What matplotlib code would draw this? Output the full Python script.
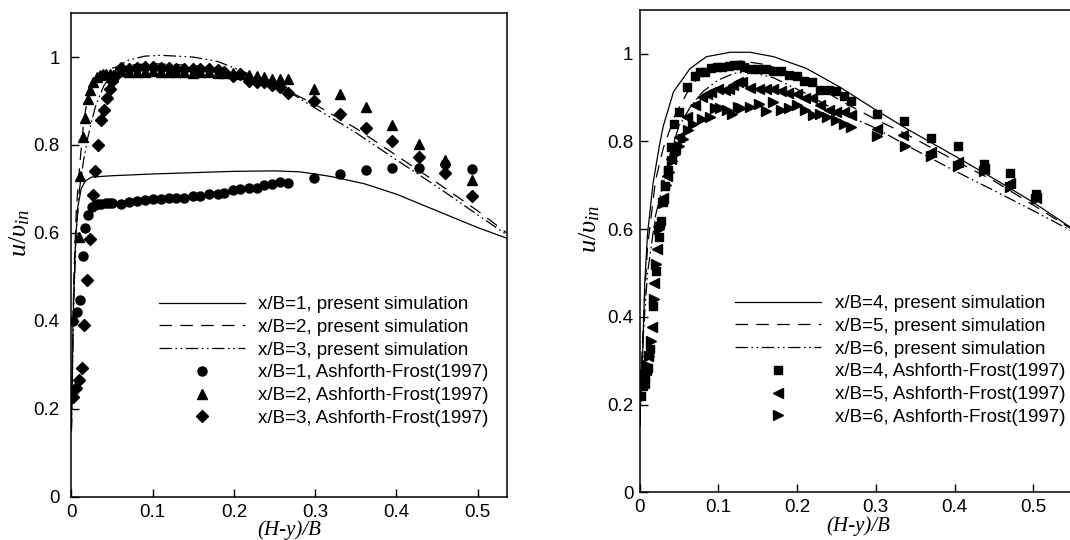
import matplotlib
matplotlib.use("Agg")
import matplotlib.pyplot as plt
from matplotlib.ticker import FormatStrFormatter, MultipleLocator

plt.rcParams['font.family'] = 'Liberation Sans'
plt.rcParams['mathtext.fontset'] = 'custom'
plt.rcParams['mathtext.it'] = 'Liberation Serif:italic'
plt.rcParams['mathtext.rm'] = 'Liberation Serif'
plt.rcParams['lines.scale_dashes'] = False

# ---- left panel: x/B = 1, 2, 3 ----
x_sim1 = [0, 0.002, 0.005, 0.008, 0.012, 0.017, 0.025, 0.05, 0.1, 0.15, 0.2, 0.25,
          0.28, 0.3, 0.32, 0.36, 0.4, 0.45, 0.5, 0.537]
u_sim1 = [0.15, 0.40, 0.58, 0.66, 0.70, 0.718, 0.727, 0.730, 0.734, 0.737, 0.740, 0.741,
          0.739, 0.734, 0.728, 0.712, 0.688, 0.650, 0.612, 0.587]

x_sim2 = [0, 0.003, 0.006, 0.01, 0.015, 0.02, 0.025, 0.03, 0.04, 0.05, 0.07, 0.1, 0.15,
          0.2, 0.25, 0.3, 0.35, 0.4, 0.45, 0.5, 0.537]
u_sim2 = [0.15, 0.50, 0.65, 0.75, 0.85, 0.91, 0.94, 0.955, 0.968, 0.975, 0.982, 0.985, 0.981,
          0.966, 0.938, 0.892, 0.838, 0.776, 0.714, 0.650, 0.598]

x_sim3 = [0, 0.003, 0.006, 0.01, 0.015, 0.02, 0.025, 0.03, 0.04, 0.05, 0.06, 0.07, 0.09,
          0.11, 0.15, 0.18, 0.21, 0.24, 0.27, 0.3, 0.35, 0.4, 0.45, 0.5, 0.537]
u_sim3 = [0.15, 0.45, 0.60, 0.70, 0.765, 0.815, 0.855, 0.89, 0.935, 0.963, 0.982, 0.993, 1.002,
          1.004, 1.0, 0.99, 0.968, 0.945, 0.918, 0.884, 0.828, 0.766, 0.705, 0.641, 0.594]

x_exp1 = [0.0025, 0.0064, 0.0106, 0.014, 0.017, 0.0203, 0.025, 0.029, 0.033, 0.037, 0.042,
          0.046, 0.05, 0.061, 0.071, 0.081, 0.09, 0.1, 0.11, 0.12, 0.129, 0.139, 0.15, 0.158,
          0.169, 0.18, 0.188, 0.199, 0.207, 0.218, 0.228, 0.237, 0.247, 0.257, 0.267,
          0.298, 0.33, 0.363, 0.395, 0.428, 0.46, 0.493]
u_exp1 = [0.40, 0.42, 0.447, 0.548, 0.611, 0.64, 0.658, 0.663, 0.665, 0.666, 0.668,
          0.669, 0.668, 0.665, 0.670, 0.673, 0.675, 0.676, 0.678, 0.679, 0.680, 0.680, 0.683, 0.685,
          0.688, 0.689, 0.690, 0.697, 0.700, 0.701, 0.703, 0.708, 0.711, 0.715, 0.713,
          0.725, 0.735, 0.744, 0.747, 0.747, 0.756, 0.745]

x_exp2 = [0.009, 0.011, 0.0139, 0.0167, 0.02, 0.023, 0.027, 0.031, 0.035, 0.039, 0.043, 0.047,
          0.051, 0.061, 0.071, 0.081, 0.09, 0.1, 0.11, 0.12, 0.129, 0.139, 0.15, 0.158, 0.169,
          0.18, 0.188, 0.199, 0.207, 0.218, 0.228, 0.237, 0.247, 0.257, 0.267,
          0.298, 0.33, 0.363, 0.395, 0.428, 0.46, 0.493]
u_exp2 = [0.59, 0.73, 0.819, 0.861, 0.905, 0.926, 0.944, 0.955, 0.96, 0.962, 0.962, 0.962,
          0.96, 0.968, 0.966, 0.967, 0.966, 0.968, 0.966, 0.966, 0.965, 0.966, 0.964, 0.967, 0.965,
          0.964, 0.963, 0.963, 0.962, 0.960, 0.957, 0.955, 0.951, 0.951, 0.951,
          0.928, 0.915, 0.887, 0.846, 0.802, 0.765, 0.721]

x_exp3 = [0.0023, 0.0057, 0.0097, 0.013, 0.016, 0.0196, 0.023, 0.026, 0.029, 0.033, 0.036,
          0.04, 0.0437, 0.047, 0.05, 0.054, 0.061, 0.071, 0.081, 0.09, 0.1, 0.11, 0.12, 0.129,
          0.139, 0.15, 0.158, 0.169, 0.18, 0.188, 0.199, 0.207, 0.218, 0.228, 0.237, 0.247,
          0.257, 0.267, 0.298, 0.33, 0.363, 0.395, 0.428, 0.46, 0.493]
u_exp3 = [0.227, 0.247, 0.265, 0.292, 0.39, 0.493, 0.586, 0.686, 0.74, 0.80, 0.856,
          0.879, 0.907, 0.928, 0.945, 0.956, 0.975, 0.973, 0.976, 0.977, 0.978, 0.976, 0.975, 0.973,
          0.972, 0.972, 0.973, 0.972, 0.970, 0.966, 0.956, 0.962, 0.945, 0.944, 0.944, 0.937,
          0.932, 0.919, 0.899, 0.871, 0.838, 0.81, 0.773, 0.737, 0.683]

# ---- right panel: x/B = 4, 5, 6 ----
x_sim4 = [0, 0.002, 0.004, 0.0065, 0.01, 0.017, 0.025, 0.03, 0.043, 0.064, 0.085, 0.115,
          0.14, 0.17, 0.212, 0.254, 0.297, 0.339, 0.4, 0.45, 0.5, 0.555]
u_sim4 = [0.15, 0.25, 0.33, 0.48, 0.59, 0.705, 0.79, 0.835, 0.913, 0.966, 0.993, 1.003,
          1.003, 0.993, 0.966, 0.924, 0.875, 0.829, 0.767, 0.715, 0.661, 0.595]

x_sim5 = [0, 0.003, 0.006, 0.01, 0.02, 0.03, 0.045, 0.06, 0.08, 0.1, 0.13, 0.16, 0.19,
          0.23, 0.26, 0.3, 0.34, 0.4, 0.45, 0.5, 0.555]
u_sim5 = [0.15, 0.32, 0.44, 0.56, 0.71, 0.785, 0.86, 0.91, 0.96, 0.976, 0.983, 0.975, 0.956,
          0.92, 0.888, 0.85, 0.815, 0.757, 0.71, 0.655, 0.593]

x_sim6 = [0, 0.003, 0.006, 0.01, 0.02, 0.03, 0.04, 0.05, 0.065, 0.08, 0.1, 0.12, 0.14,
          0.17, 0.21, 0.25, 0.3, 0.34, 0.4, 0.45, 0.5, 0.555]
u_sim6 = [0.15, 0.30, 0.40, 0.50, 0.63, 0.705, 0.78, 0.835, 0.88, 0.913, 0.94, 0.955, 0.958,
          0.945, 0.91, 0.87, 0.83, 0.79, 0.733, 0.688, 0.642, 0.59]

x_exp4 = [0.002, 0.004, 0.0065, 0.0105, 0.013, 0.017, 0.021, 0.025, 0.0275, 0.03, 0.0325,
          0.036, 0.04, 0.044, 0.05, 0.06, 0.07, 0.077, 0.083, 0.09, 0.098, 0.105, 0.113, 0.12,
          0.127, 0.133, 0.141, 0.15, 0.16, 0.17, 0.179, 0.19, 0.2, 0.209, 0.219, 0.229, 0.24,
          0.249, 0.259, 0.269, 0.302, 0.336, 0.37, 0.404, 0.437, 0.47, 0.503]
u_exp4 = [0.22, 0.242, 0.261, 0.284, 0.326, 0.425, 0.505, 0.581, 0.619, 0.661, 0.699,
          0.734, 0.788, 0.84, 0.866, 0.923, 0.95, 0.959, 0.959, 0.968, 0.97, 0.97, 0.972, 0.974,
          0.974, 0.969, 0.966, 0.965, 0.964, 0.96, 0.96, 0.951, 0.949, 0.937, 0.935, 0.917, 0.917,
          0.914, 0.903, 0.893, 0.862, 0.846, 0.807, 0.789, 0.749, 0.728, 0.68]

x_exp5 = [0.005, 0.008, 0.011, 0.0162, 0.0183, 0.0218, 0.025, 0.03, 0.035, 0.04, 0.045,
          0.05, 0.06, 0.07, 0.079, 0.085, 0.091, 0.1, 0.108, 0.113, 0.119, 0.125, 0.13, 0.14,
          0.151, 0.16, 0.169, 0.18, 0.189, 0.2, 0.21, 0.219, 0.229, 0.24, 0.25, 0.259, 0.269,
          0.302, 0.335, 0.37, 0.404, 0.437, 0.47, 0.503]
u_exp5 = [0.25, 0.28, 0.31, 0.377, 0.477, 0.555, 0.614, 0.67, 0.72, 0.76, 0.785,
          0.81, 0.856, 0.882, 0.901, 0.909, 0.913, 0.92, 0.917, 0.92, 0.928, 0.936, 0.936, 0.922,
          0.92, 0.92, 0.92, 0.914, 0.911, 0.907, 0.898, 0.898, 0.882, 0.871, 0.868, 0.868, 0.861,
          0.827, 0.814, 0.776, 0.752, 0.738, 0.705, 0.672]

x_exp6 = [0.006, 0.009, 0.012, 0.0144, 0.018, 0.021, 0.025, 0.029, 0.033, 0.037, 0.041,
          0.045, 0.05, 0.055, 0.062, 0.068, 0.079, 0.089, 0.096, 0.102, 0.111, 0.117, 0.125,
          0.129, 0.14, 0.151, 0.16, 0.17, 0.18, 0.19, 0.2, 0.21, 0.22, 0.229, 0.238, 0.25, 0.26,
          0.269, 0.302, 0.337, 0.37, 0.404, 0.437, 0.47, 0.503]
u_exp6 = [0.27, 0.29, 0.31, 0.345, 0.44, 0.52, 0.60, 0.66, 0.70, 0.73, 0.755,
          0.772, 0.79, 0.805, 0.825, 0.84, 0.852, 0.856, 0.875, 0.875, 0.871, 0.863, 0.879,
          0.876, 0.879, 0.886, 0.869, 0.89, 0.871, 0.875, 0.882, 0.871, 0.861, 0.863, 0.856, 0.848, 0.84,
          0.833, 0.812, 0.79, 0.767, 0.744, 0.733, 0.697, 0.668]

DASH = (9, 6)
DASHDOTDOT = (9, 2.5, 1.2, 2.5, 1.2, 2.5)
LW = 0.9


def setup(ax, xmax, leg_xy, ypad, ylab_x):
    ax.set_xlim(0, xmax)
    ax.set_ylim(0, 1.1)
    ax.xaxis.set_major_locator(MultipleLocator(0.1))
    ax.yaxis.set_major_locator(MultipleLocator(0.2))
    ax.xaxis.set_major_formatter(FormatStrFormatter('%g'))
    ax.yaxis.set_major_formatter(FormatStrFormatter('%g'))
    ax.tick_params(direction='in', length=6, width=1, labelsize=13.5)
    ax.tick_params(axis='x', pad=5)
    ax.tick_params(axis='y', pad=ypad)
    for s in ax.spines.values():
        s.set_linewidth(1.1)
    ax.set_xlabel('(H-y)/B', family='Liberation Serif', style='italic', fontsize=15, labelpad=0)
    ax.set_ylabel(r'$u/\upsilon_{in}$', fontsize=19)
    ax.yaxis.set_label_coords(ylab_x, 0.6 / 1.1)
    ax.legend(loc='upper left', bbox_to_anchor=leg_xy, frameon=False, fontsize=13.5,
              handlelength=4.6, handletextpad=0.7, labelspacing=0.3, borderpad=0,
              borderaxespad=0, numpoints=1)


fig = plt.figure(figsize=(10.7, 5.4), dpi=100)

ax1 = fig.add_axes([71.4 / 1070, 43.4 / 540, 435.6 / 1070, 483.5 / 540])
ax1.plot(x_sim1, u_sim1, color='k', lw=LW, label='x/B=1, present simulation')
ax1.plot(x_sim2, u_sim2, color='k', lw=LW, dashes=DASH, label='x/B=2, present simulation')
ax1.plot(x_sim3, u_sim3, color='k', lw=LW, dashes=DASHDOTDOT, label='x/B=3, present simulation')
ax1.plot(x_exp1, u_exp1, 'ko', ms=6.5, ls='none', label='x/B=1, Ashforth-Frost(1997)')
ax1.plot(x_exp2, u_exp2, 'k^', ms=6.5, ls='none', label='x/B=2, Ashforth-Frost(1997)')
ax1.plot(x_exp3, u_exp3, 'kD', ms=6, ls='none', label='x/B=3, Ashforth-Frost(1997)')
setup(ax1, 0.536, (0.2, 0.415), 8.5, -0.091)

ax2 = fig.add_axes([639.7 / 1070, 47.6 / 540, 0.555 * 787 / 1070, 482.7 / 540])
ax2.plot(x_sim4, u_sim4, color='k', lw=LW, label='x/B=4, present simulation')
ax2.plot(x_sim5, u_sim5, color='k', lw=LW, dashes=DASH, label='x/B=5, present simulation')
ax2.plot(x_sim6, u_sim6, color='k', lw=LW, dashes=DASHDOTDOT, label='x/B=6, present simulation')
ax2.plot(x_exp4, u_exp4, 'ks', ms=5.5, ls='none', label='x/B=4, Ashforth-Frost(1997)')
ax2.plot(x_exp5, u_exp5, 'k<', ms=6.5, ls='none', label='x/B=5, Ashforth-Frost(1997)')
ax2.plot(x_exp6, u_exp6, 'k>', ms=6.5, ls='none', label='x/B=6, Ashforth-Frost(1997)')
setup(ax2, 0.555, (0.2186, 0.409), 4.5, -0.086)

fig.savefig('out.png', dpi=100)
